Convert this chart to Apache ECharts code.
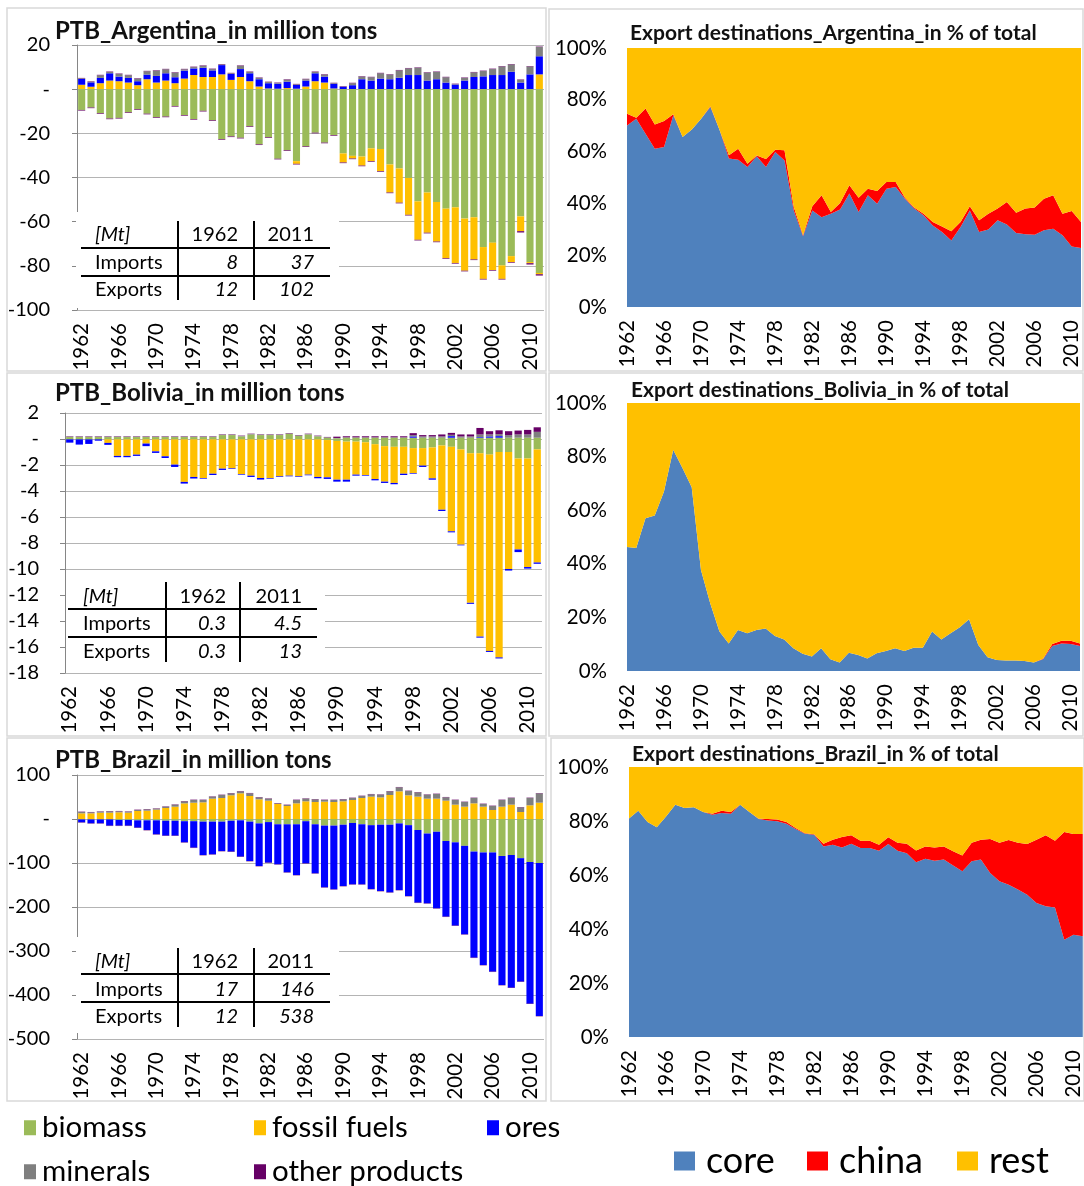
<!DOCTYPE html>
<html><head><meta charset="utf-8">
<script src="https://cdn.jsdelivr.net/npm/echarts@6/dist/echarts.min.js"></script>
<style>html,body{margin:0;padding:0;background:#fff}#c{width:1084px;height:1186px}</style>
</head><body><div id="c"></div><script>
// ---------- categories ----------
const years = ['1962','1963','1964','1965','1966','1967','1968','1969','1970','1971',
 '1972','1973','1974','1975','1976','1977','1978','1979','1980','1981',
 '1982','1983','1984','1985','1986','1987','1988','1989','1990','1991',
 '1992','1993','1994','1995','1996','1997','1998','1999','2000','2001',
 '2002','2003','2004','2005','2006','2007','2008','2009','2010','2011'];
const materialNames = ['biomass','fossil fuels','ores','minerals','other products'];
const materialColors = ['#9BBB59','#FFC000','#0000FF','#7F7F7F','#660066'];
const destNames = ['core','china','rest'];
const destColors = ['#4F81BD','#FF0000','#FFC000'];

// ---------- Argentina PTB (Mt); exports stored as magnitudes ----------
const argImpFossil = [2.0,1.1,2.7,3.9,3.6,3.0,1.8,4.5,3.0,3.9, 2.7,4.8,6.4,5.5,5.5,6.7,4.2,5.5,3.6,1.2, 0.3,0.2,0.5,0.2,1.2,3.6,3.0,0.3,0,0, 0,0,0,0,0,0,0,0,0,0, 0,0,0,0,0,0,0,0,0,6.7];
const argImpOres = [2.6,2.0,2.4,3.3,2.1,2.1,1.8,2.1,3.0,3.3, 2.7,3.6,3.0,4.2,3.0,4.2,2.7,3.6,3.6,3.3, 2.4,2.3,2.9,1.7,2.7,3.6,2.7,2.1,1.1,1.8, 4.5,3.9,4.8,4.5,5.2,6.4,6.4,3.9,4.5,3.0, 2.1,3.9,5.5,5.8,6.4,6.4,7.9,3.0,6.7,8.2];
const argImpMinerals = [0.3,0.3,1.2,0.6,1.2,1.2,1.2,1.5,2.4,1.8, 2.1,0.6,0.6,0.9,0.6,0.3,0.3,1.5,0.6,0.6, 0.5,0.3,0.9,0.3,0.6,0.6,0.9,0.3,0.1,0.9, 1.2,1.5,2.4,2.1,3.3,3.0,3.3,3.6,3.3,2.4, 0.2,1.2,2.1,2.4,2.7,3.9,3.3,1.2,3.6,4.2];
const argImpOther = [0.2,0.2,0.2,0.2,0.2,0.2,0.2,0.2,0.2,0.2, 0.2,0.2,0.2,0.2,0.2,0.2,0.2,0.2,0.2,0.2, 0.2,0.2,0.2,0.2,0.2,0.2,0.2,0.2,0.2,0.2, 0.2,0.2,0.2,0.2,0.2,0.2,0.2,0.2,0.2,0.2, 0.2,0.2,0.2,0.2,0.2,0.2,0.2,0.2,0.2,0.2];
const argExpBiomass = [9.4,8.3,10.9,13.3,13.0,10.5,9.1,11.1,12.7,12.4, 7.6,11.7,13.5,9.8,14.1,22.6,21.4,22.0,16.8,25.0, 21.8,31.5,27.7,32.6,25.9,19.7,24.2,20.8,29.1,30.2, 30.5,26.8,27.1,34.1,35.9,40.2,50.8,46.8,51.1,54.1, 53.5,58.6,58.0,71.5,69.5,79.8,75.6,57.6,78.3,83.2];
const argExpFossil = [0,0,0,0,0,0,0,0,0,0, 0,0,0,0,0,0,0,0,0,0, 0,0,0,1.2,0,0,0,0,4.1,1.2, 4.1,5.8,10.0,12.7,15.5,16.7,17.4,18.2,17.9,22.4, 25.2,23.6,19.1,14.4,12.4,6.1,2.7,6.7,0.5,0.6];
const argExpOther = [0.3,0.3,0.3,0.3,0.3,0.3,0.3,0.3,0.3,0.3, 0.3,0.3,0.3,0.3,0.3,0.3,0.3,0.3,0.3,0.3, 0.3,0.3,0.3,0.3,0.3,0.3,0.3,0.3,0.3,0.3, 0.3,0.3,0.3,0.3,0.3,0.3,0.3,0.3,0.3,0.3, 0.3,0.3,0.3,0.3,0.3,0.3,0.3,0.6,0.6,0.6];

// ---------- Bolivia PTB (Mt) ----------
const bolImpBiomass = [0.15,0.15,0.15,0.15,0.15,0.15,0.15,0.15,0.15,0.15, 0.15,0.15,0.15,0.15,0.15,0.15,0.3,0.3,0.2,0.35, 0.3,0.3,0.3,0.4,0.25,0.35,0.2,0.1,0.05,0.1, 0.1,0.1,0.1,0.1,0.1,0.1,0.1,0.1,0.1,0.1, 0.1,0.1,0.1,0.1,0.1,0.1,0.1,0.1,0.1,0.1];
const bolImpOres = [0,0,0,0,0,0,0,0,0,0, 0,0,0,0,0,0,0,0,0,0, 0,0,0,0,0,0,0,0,0,0, 0,0,0,0,0,0,0.1,0,0,0, 0.12,0,0,0.05,0.1,0.12,0,0,0,0];
const bolImpMinerals = [0.03,0.03,0.03,0.03,0.03,0.03,0.03,0.03,0.03,0.03, 0.03,0.03,0.03,0.03,0.03,0.03,0.03,0.03,0.03,0.03, 0.03,0.03,0.03,0.03,0.03,0.03,0.03,0.03,0.03,0.03, 0.03,0.03,0.03,0.03,0.03,0.03,0.1,0.1,0.1,0.1, 0.1,0.1,0.1,0.2,0.15,0.15,0.2,0.25,0.25,0.45];
const bolImpOther = [0.03,0.03,0.03,0.03,0.03,0.03,0.03,0.03,0.03,0.03, 0.03,0.03,0.03,0.03,0.03,0.03,0.03,0.03,0.03,0.03, 0.03,0.03,0.03,0.03,0.03,0.03,0.03,0.03,0.1,0.08, 0.08,0.08,0.08,0.08,0.08,0.08,0.15,0.1,0.1,0.15, 0.15,0.15,0.15,0.5,0.25,0.3,0.3,0.3,0.35,0.35];
const bolExpBiomass = [0.03,0.03,0.03,0.03,0.03,0.03,0.03,0.03,0.03,0.03, 0.03,0.03,0.03,0.03,0.03,0.03,0.03,0.03,0.03,0.03, 0.03,0.03,0.03,0.03,0.03,0.03,0.03,0.08,0.15,0.2, 0.2,0.25,0.4,0.55,0.6,0.6,0.7,0.7,0.65,0.5, 0.6,0.8,1.1,1.1,1.2,1.0,1.0,1.5,1.5,0.8];
const bolExpFossil = [0,0,0,0,0.27,1.27,1.27,1.17,0.32,0.92, 1.3,1.94,3.27,2.89,2.97,2.64,2.25,2.23,2.67,2.79, 2.97,2.97,2.84,2.79,2.84,2.71,2.89,2.87,2.98,2.93, 2.54,2.52,2.68,2.73,2.78,2.07,1.92,1.35,2.38,4.94, 6.5,7.33,11.5,14.1,15.1,15.8,9.0,7.0,8.35,8.7];
const bolExpOres = [0.25,0.4,0.35,0.1,0.15,0.1,0.1,0.1,0.2,0.12, 0.13,0.18,0.13,0.12,0.05,0.1,0.1,0.05,0.05,0.1, 0.12,0.05,0.05,0.05,0.05,0.05,0.1,0.12,0.15,0.15, 0.08,0.05,0.1,0.1,0.1,0.1,0.05,0.1,0.1,0.1, 0.08,0.05,0.08,0.08,0.08,0.08,0.12,0.2,0.12,0.1];

// ---------- Brazil PTB (Mt) ----------
const braImpFossil = [12.9,12.9,14.4,14.4,15.2,14.4,18.2,18.9,21.2,25.0, 28.0,35.6,37.1,37.9,46.2,47.7,53.8,58.3,52.3,44.7, 41.7,34.1,29.5,35.6,40.2,38.6,39.4,38.6,40.2,43.2, 47.7,50.8,49.2,54.5,62.9,53.8,50.8,46.2,46.2,41.7, 32.6,28.0,35.6,28.0,20.5,28.0,32.6,15.9,31.1,37.1];
const braImpMinerals = [3.0,2.3,2.3,3.0,2.3,2.3,2.3,3.0,2.3,3.0, 4.5,4.5,6.1,5.3,4.5,6.8,4.5,4.5,6.1,4.5, 4.5,1.5,2.3,7.6,6.1,6.1,3.8,4.5,4.5,4.5, 4.5,5.3,6.1,8.3,9.1,9.8,9.8,9.1,10.6,7.6, 10.6,10.6,12.1,6.1,9.1,15.2,15.2,10.6,16.7,21.2];
const braImpOther = [0.8,0.8,0.8,0.8,0.8,0.8,0.8,0.8,0.8,0.8, 0.8,0.8,0.8,0.8,0.8,0.8,0.8,0.8,0.8,0.8, 0.8,0.8,0.8,0.8,0.8,0.8,0.8,0.8,0.8,0.8, 0.8,0.8,0.8,0.8,0.8,0.8,0.8,0.8,0.8,0.8, 0.8,0.8,0.8,0.8,0.8,0.8,0.8,0.8,0.8,0.8];
const braExpBiomass = [1,1,1,1,2,2,3,3,3,4, 4,5,5,6,6,6,4,3,6,10, 7,12,12,12,5,12,15,15,13,9, 12,14,13,13,10,14,25,33,29,50, 53,61,74,76,76,84,82,89,98,100];
const braExpOres = [6.6,8.8,8.8,14.2,13.2,13.2,16.7,22,31.8,33.9, 33.9,48,60.2,75.8,74.3,66.7,70.2,82.6,89.5,96.8, 92.2,91,109.2,115.3,95.8,111.5,140.3,144.8,139.3,139.5, 136.5,145.1,150.6,153.7,151.4,161,165.2,158.7,174,172, 189.4,201.1,241.2,255.8,271,293.3,301.3,280.7,321.7,347.7];
const braExpOther = [0.8,0.8,0.8,0.8,0.8,0.8,0.8,0.8,0.8,0.8, 0.8,0.8,0.8,0.8,0.8,0.8,0.8,0.8,0.8,0.8, 0.8,0.8,0.8,0.8,0.8,0.8,0.8,0.8,0.8,0.8, 0.8,0.8,0.8,0.8,0.8,0.8,0.8,0.8,0.8,0.8, 0.8,0.8,0.8,0.8,0.8,0.8,0.8,0.8,0.8,0.8];

// ---------- Export destinations (% of total) ----------
const argCore = [70.1,72.7,66.9,61.1,61.8,74.0,65.6,68.5,72.7,77.2, 68.2,57.3,56.9,54.1,58.2,54.1,59.8,56.6,37.3,27.3, 37.3,34.7,36.0,37.6,43.8,36.7,43.1,39.9,45.7,46.3, 41.8,38.0,35.4,31.5,29.0,25.7,30.9,37.3,29.0,29.9, 33.5,31.9,28.6,28.1,27.9,29.6,30.2,27.7,23.4,22.8];
const argChina = [4.5,0.4,9.7,9.4,10.0,0.4,0,0,0,0.3, 0,1.3,4.2,1.2,0.3,3.0,0.9,3.9,1.3,0.4, 1.6,8.4,0.7,2.6,3.2,5.5,2.6,4.9,2.6,2.0, 0.4,0.4,0.6,1.3,2.1,3.5,1.9,1.6,4.5,6.1, 4.5,8.6,7.8,9.9,10.5,12.2,12.9,8.3,13.7,10.0];
const bolCore = [46.3,45.9,57.0,58.0,67.0,82.6,75.7,68.6,37.7,25.3, 14.7,10.3,15.3,14.1,15.3,15.9,13.1,11.8,8.5,6.4, 5.4,8.5,4.4,3.2,6.8,6.0,4.7,6.6,7.5,8.5, 7.5,8.7,8.7,14.7,11.8,14.1,16.3,19.3,9.7,5.1, 4.1,3.9,3.9,3.7,3.2,4.4,9.3,10.3,10.1,9.3];
const bolChina = [0,0,0,0,0,0,0,0,0,0, 0,0,0,0,0,0,0,0,0,0, 0,0,0,0,0,0,0,0,0,0, 0,0,0,0,0,0,0,0,0,0, 0,0,0,0,0,0.2,0.8,1.0,1.2,1.0];
const braCore = [80.9,83.8,79.6,77.7,81.7,86.0,84.8,85.1,83.3,82.3, 83.0,82.7,86.0,83.3,80.7,80.2,79.9,79.0,77.0,75.3, 74.9,70.6,71.2,70.2,71.6,70.0,70.0,69.0,71.5,69.0, 68.1,64.7,66.0,65.3,65.7,63.5,61.4,65.1,65.7,60.7, 57.7,56.4,54.6,52.7,49.6,48.4,48.0,36.0,37.9,37.3];
const braChina = [0,0,0,0,0,0,0,0,0,0.4, 0.8,0.6,0,0,0.1,0.5,0.7,0.6,0.4,0.2, 0.2,1.0,1.9,3.9,3.1,2.7,2.7,2.2,2.5,2.9, 3.5,4.4,4.6,4.9,4.9,5.3,5.8,6.8,7.4,12.6, 14.2,16.6,17.3,18.8,23.5,26.3,24.7,39.9,37.3,37.9];

// ---------- summary tables ----------
const tableHeader = ['[Mt]','1962','2011'];
const argTable = [['Imports','8','37'],['Exports','12','102']];
const bolTable = [['Imports','0.3','4.5'],['Exports','0.3','13']];
const braTable = [['Imports','17','146'],['Exports','12','538']];

// ---------- titles ----------
const titles = ['PTB_Argentina_in million tons','Export destinations_Argentina_in % of total',
 'PTB_Bolivia_in million tons','Export destinations_Bolivia_in % of total',
 'PTB_Brazil_in million tons','Export destinations_Brazil_in % of total'];

// ================= build =================
const FONT = 'Lato, "Open Sans", "DejaVu Sans", sans-serif';
const colorOf = {};
materialNames.forEach((n,i)=>colorOf[n]=materialColors[i]);
destNames.forEach((n,i)=>colorOf['d_'+n]=destColors[i]);

const grids = [
 {left:77, top:45, width:467, height:265},   // 0 Arg bars
 {left:627, top:48, width:454, height:259},  // 1 Arg area
 {left:65, top:413, width:477, height:260},  // 2 Bol bars
 {left:627, top:403, width:453, height:268}, // 3 Bol area
 {left:77, top:775, width:467, height:264},  // 4 Bra bars
 {left:629, top:767, width:455, height:270}  // 5 Bra area
];
const barY = {0:{min:-100,max:20,interval:20}, 2:{min:-18,max:2,interval:2}, 4:{min:-500,max:100,interval:100}};

const xAxes = [], yAxes = [];
grids.forEach((g,i)=>{
  const isBar = (i % 2 === 0);
  xAxes.push({
    type:'category', gridIndex:i, data:years, boundaryGap:isBar,
    axisLine:{show:false, onZero:false}, axisTick:{show:false},
    axisLabel:{rotate:90, interval:3, fontSize:20.5, color:'#000', fontFamily:FONT, margin:13},
    splitLine:{show:false}
  });
  if (isBar) {
    yAxes.push({
      type:'value', gridIndex:i, min:barY[i].min, max:barY[i].max, interval:barY[i].interval,
      axisLine:{show:true, lineStyle:{color:'#868686'}},
      axisTick:{show:true, length:5, lineStyle:{color:'#868686'}},
      axisLabel:{fontSize:20, color:'#000', fontFamily:FONT, margin:i===2?26:27,
        formatter:v=> v===0 ? '-' : String(v)},
      splitLine:{show:true, lineStyle:{color:'#B4B4B4', width:1}}
    });
  } else {
    yAxes.push({
      type:'value', gridIndex:i, min:0, max:100, interval:20,
      axisLine:{show:false}, axisTick:{show:false},
      axisLabel:{fontSize:20.5, color:'#000', fontFamily:FONT, margin:20, formatter:'{value}%'},
      splitLine:{show:false}
    });
  }
});

const series = [];
function barPanel(g, imports, exportsMag) {
  const stack = 'ptb'+g;
  imports.forEach(([cat, arr])=>series.push({
    type:'bar', name:cat, stack, xAxisIndex:g, yAxisIndex:g, data:arr,
    itemStyle:{color:colorOf[cat]}, barCategoryGap:'24%', emphasis:{disabled:true}
  }));
  exportsMag.forEach(([cat, arr])=>series.push({
    type:'bar', name:cat, stack, xAxisIndex:g, yAxisIndex:g, data:arr.map(v=>-v),
    itemStyle:{color:colorOf[cat]}, barCategoryGap:'24%', emphasis:{disabled:true}
  }));
}
function areaPanel(g, core, china) {
  const rest = core.map((c,k)=>+(100 - c - china[k]).toFixed(1));
  [['core',core],['china',china],['rest',rest]].forEach(([n,arr])=>series.push({
    type:'line', name:n, stack:'dest'+g, xAxisIndex:g, yAxisIndex:g, data:arr,
    showSymbol:false, symbol:'none', lineStyle:{width:0, opacity:0},
    areaStyle:{color:colorOf['d_'+n], opacity:1}, itemStyle:{color:colorOf['d_'+n]},
    emphasis:{disabled:true}
  }));
}

barPanel(0,
  [['fossil fuels',argImpFossil],['ores',argImpOres],['minerals',argImpMinerals],['other products',argImpOther]],
  [['biomass',argExpBiomass],['fossil fuels',argExpFossil],['other products',argExpOther]]);
areaPanel(1, argCore, argChina);
barPanel(2,
  [['biomass',bolImpBiomass],['ores',bolImpOres],['minerals',bolImpMinerals],['other products',bolImpOther]],
  [['biomass',bolExpBiomass],['fossil fuels',bolExpFossil],['ores',bolExpOres]]);
areaPanel(3, bolCore, bolChina);
barPanel(4,
  [['fossil fuels',braImpFossil],['minerals',braImpMinerals],['other products',braImpOther]],
  [['biomass',braExpBiomass],['ores',braExpOres],['other products',braExpOther]]);
areaPanel(5, braCore, braChina);

// titles: [left, centerY, fontSize]
const titlePos = [[55,31,24],[630,33,21],[55,393,24],[631,390,21],[55,760,24],[632,754,21]];
const title = titles.map((t,i)=>({
  text:t, left:titlePos[i][0], top:titlePos[i][1]-(titlePos[i][2]+2)/2, padding:0,
  textStyle:{fontFamily:FONT, fontWeight:'bold', fontSize:titlePos[i][2], color:'#111', lineHeight:titlePos[i][2]+2}
}));

// legends
function leg(name, left, top, iw, ih, fs, gap) {
  return {data:[name], left, top, itemWidth:iw, itemHeight:ih, icon:'rect', padding:0, selectedMode:false,
    textStyle:{fontFamily:FONT, fontSize:fs, color:'#000', lineHeight:fs+2, padding:[0,0,0,gap]}};
}
const legend = [
  leg('biomass',24,1112,12,15,29.5,1), leg('fossil fuels',254,1112,12,15,29.5,1), leg('ores',487,1112,12,15,29.5,1),
  leg('minerals',24,1156,12,15,29.5,1), leg('other products',254,1156,12,15,29.5,1),
  leg('core',674,1142,21,19,36,6), leg('china',807,1142,21,19,36,6), leg('rest',957,1142,21,19,36,6)
];

// graphics: panel borders + tables
const graphic = [];
[[7,8,539,363],[549,9,534,362],[7,373,539,363],[549,373,534,363],[7,738,539,363],[551,738,533,363]].forEach(r=>{
  graphic.push({type:'rect', shape:{x:r[0],y:r[1],width:r[2],height:r[3]}, style:{fill:'transparent', stroke:'#D9D9D9', lineWidth:1.5}, z:1, silent:true});
});
function table(spec, rows) {
  const z = 100;
  graphic.push({type:'rect', shape:{x:spec.bx, y:spec.by, width:spec.bw, height:spec.bh}, style:{fill:'#fff'}, z, silent:true});
  spec.vx.forEach(x=>graphic.push({type:'line', shape:{x1:x,y1:spec.vy1,x2:x,y2:spec.vy2}, style:{stroke:'#000', lineWidth:2}, z:z+1, silent:true}));
  spec.hy.forEach(y=>graphic.push({type:'line', shape:{x1:spec.hx1,y1:y,x2:spec.hx2,y2:y}, style:{stroke:'#000', lineWidth:2}, z:z+1, silent:true}));
  const txt = (t,x,y,align,italic)=>graphic.push({type:'text', x, y, z:z+2, silent:true,
    style:{text:t, fill:'#000', fontFamily:FONT, fontSize:20, fontStyle:italic?'italic':'normal', textAlign:align, textVerticalAlign:'middle'}});
  txt(tableHeader[0], spec.c0, spec.ry[0], 'left', true);
  txt(tableHeader[1], spec.c1, spec.ry[0], 'right', false);
  txt(tableHeader[2], spec.c2, spec.ry[0], 'right', false);
  rows.forEach((r,k)=>{
    txt(r[0], spec.c0, spec.ry[k+1], 'left', false);
    txt(r[1], spec.c1, spec.ry[k+1], 'right', true);
    txt(r[2], spec.c2, spec.ry[k+1], 'right', true);
  });
}
table({bx:76,by:212,bw:263,bh:96, vx:[178,254], vy1:221, vy2:300, hy:[248,276], hx1:81, hx2:330, c0:95, c1:238, c2:314, ry:[235,263,290]}, argTable);
table({bx:66,by:572,bw:259,bh:95, vx:[166,240], vy1:582, vy2:662, hy:[609,637], hx1:68, hx2:317, c0:83, c1:226, c2:302, ry:[597,624,652]}, bolTable);
table({bx:76,by:937,bw:263,bh:96, vx:[178,254], vy1:948, vy2:1027, hy:[974,1002], hx1:81, hx2:330, c0:95, c1:238, c2:314, ry:[962,990,1017]}, braTable);

const chart = echarts.init(document.getElementById('c'), null, {renderer:'canvas'});
chart.setOption({
  animation:false, backgroundColor:'#fff',
  title, legend, grid:grids, xAxis:xAxes, yAxis:yAxes, series, graphic,
  textStyle:{fontFamily:FONT}
});
</script></body></html>
